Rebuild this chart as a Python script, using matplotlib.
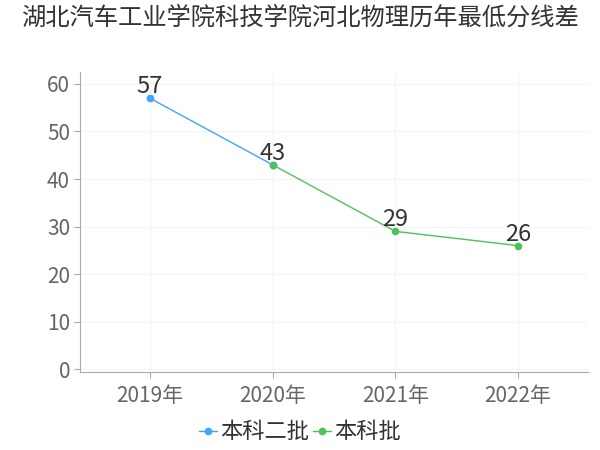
import matplotlib.pyplot as plt
import numpy as np

plt.rcParams['font.family'] = ['Noto Sans CJK SC', 'DejaVu Sans']

title = "湖北汽车工业学院科技学院河北物理历年最低分线差"
years = ["2019年", "2020年", "2021年", "2022年"]
s1_name = "本科二批"
s1_x = [0, 1]
s1_y = [57, 43]
s2_name = "本科批"
s2_x = [1, 2, 3]
s2_y = [43, 29, 26]

blue = '#3fa6ff'
green = '#4dc25a'

fig = plt.figure(figsize=(6, 4.5), dpi=100)
ax = fig.add_axes([0.133, 0.173, 0.847, 0.667])

ax.plot(s1_x, s1_y, color=blue, lw=1, marker='o', markersize=4.5, label=s1_name, zorder=3)
ax.plot(s2_x, s2_y, color=green, lw=1, marker='o', markersize=4.5, label=s2_name, zorder=3)

for xs, ys in [(s1_x, s1_y), (s2_x[1:], s2_y[1:])]:
    for x, y in zip(xs, ys):
        ax.annotate(str(y), (x, y), xytext=(0, 0), textcoords='offset points',
                    ha='center', va='bottom', fontsize=17, color='#333333')

ax.set_xlim(-0.57, 3.57)
ax.set_ylim(-0.6, 62.5)
ax.set_yticks(np.arange(0, 61, 10))
ax.set_xticks(range(len(years)))
ax.set_xticklabels(years)
ax.grid(True, color='#f4f4f4', lw=0.8)
ax.set_axisbelow(True)

for side in ['top', 'right']:
    ax.spines[side].set_visible(False)
for side in ['left', 'bottom']:
    ax.spines[side].set_color('#aaaaaa')
ax.tick_params(axis='both', colors='#aaaaaa', labelcolor='#666666', labelsize=15, length=4)
ax.tick_params(axis='x', pad=5)
ax.tick_params(axis='y', pad=3)

fig.suptitle(title, x=0.5, y=0.99, fontsize=17.5, color='#333333', va='top')
fig.legend(loc='center', bbox_to_anchor=(0.5, 0.04), ncol=2, frameon=False,
           fontsize=16, handlelength=0.8, handletextpad=0.15, columnspacing=0.2,
           labelcolor='#333333')

fig.savefig('out.png')
